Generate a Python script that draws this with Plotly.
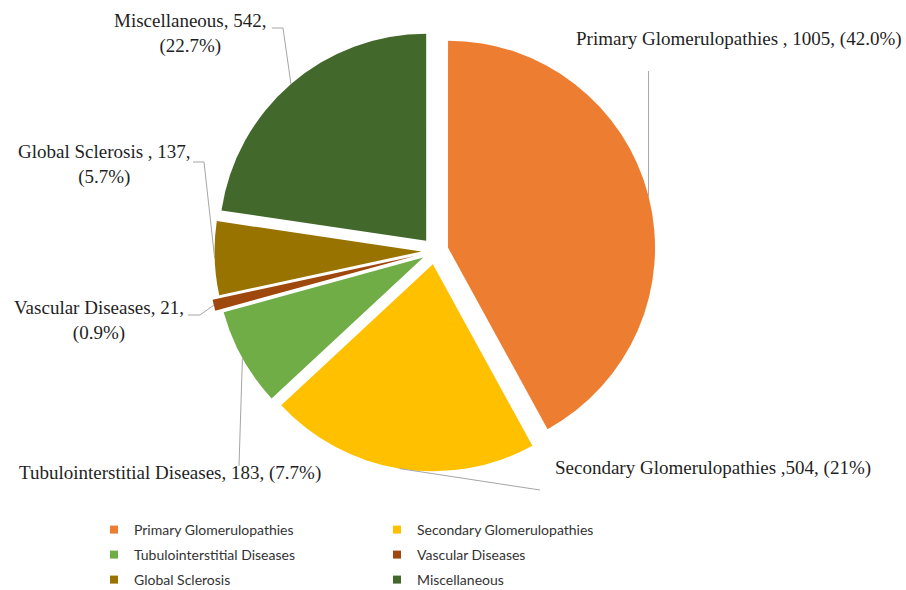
import math
import plotly.graph_objects as go

# ---- data -------------------------------------------------------------
categories = [
    "Primary Glomerulopathies",
    "Secondary Glomerulopathies",
    "Tubulointerstitial Diseases",
    "Vascular Diseases",
    "Global Sclerosis",
    "Miscellaneous",
]
counts = [1005, 504, 183, 21, 137, 542]
label_texts = [
    "Primary Glomerulopathies , 1005, (42.0%)",
    "Secondary Glomerulopathies ,504, (21%)",
    "Tubulointerstitial Diseases, 183, (7.7%)",
    "Vascular Diseases, 21,<br>(0.9%)",
    "Global Sclerosis , 137,<br>(5.7%)",
    "Miscellaneous, 542,<br>(22.7%)",
]
colors = ["#ED7D31", "#FFC000", "#70AD47", "#9E480E", "#997300", "#43682B"]

# ---- layout geometry (pixels) ------------------------------------------
W, H = 906, 590
CX, CY = 435, 251          # pie centre
R = 207                     # pie radius
pulls = [0.065, 0.065, 0.065, 0.10, 0.065, 0.065]

# label centres and leader-line elbows (pixels)
label_pos = [(739, 39), (713, 468), (170, 473), (99, 320), (104, 164), (190, 34)]
leader_tail = [
    [(None, 71)],
    [(540, 490)],
    [(239, 466)],
    [(200, 315), (188, 315)],
    [(204, 162), (193, 162)],
    [(283, 28), (272, 28)],
]


def fx(x):
    return x / W


def fy(y):
    return 1 - y / H


half = R * (1 + max(pulls))
domain = dict(x=[fx(CX - half), fx(CX + half)], y=[fy(CY + half), fy(CY - half)])

fig = go.Figure()
fig.add_trace(go.Pie(
    labels=categories,
    values=counts,
    sort=False,
    direction="clockwise",
    rotation=0,
    pull=pulls,
    marker=dict(colors=colors, line=dict(width=0)),
    textinfo="none",
    hoverinfo="label+value+percent",
    showlegend=False,
    domain=domain,
))

# legend entries: two columns of three
for i, (name, col) in enumerate(zip(categories, colors)):
    fig.add_trace(go.Scatter(
        x=[None], y=[None], mode="markers", name=name,
        marker=dict(symbol="square", size=8, color=col),
        legend="legend" if i % 2 == 0 else "legend2",
        legendgroup=name,
    ))

# leader lines from each slice's outer mid-point to its label
total = sum(counts)
shapes = []
annotations = []
cum = 0
for i, c in enumerate(counts):
    theta = math.radians((cum + c / 2) / total * 360)
    cum += c
    dist = R * (1 + pulls[i])
    rx = CX + dist * math.sin(theta)
    ry = CY - dist * math.cos(theta)
    pts = [(rx, ry)] + [(rx if px is None else px, py) for px, py in leader_tail[i]]
    path = "M " + " L ".join(f"{fx(x):.5f},{fy(y):.5f}" for x, y in pts)
    shapes.append(dict(type="path", path=path, xref="paper", yref="paper",
                       line=dict(color="#A6A6A6", width=1)))
    lx, ly = label_pos[i]
    annotations.append(dict(
        x=fx(lx), y=fy(ly), xref="paper", yref="paper",
        text=label_texts[i], showarrow=False, align="center",
        xanchor="center", yanchor="middle",
        font=dict(family="Liberation Serif", size=19, color="#1f1f1f"),
    ))

legend_style = dict(
    xanchor="left", yanchor="top",
    font=dict(family="Lato", size=14, color="#333333"),
    bgcolor="rgba(0,0,0,0)", tracegroupgap=3.8,
    itemclick=False, itemdoubleclick=False,
)

fig.update_layout(
    width=W, height=H,
    margin=dict(l=0, r=0, t=0, b=0, autoexpand=False),
    paper_bgcolor="white", plot_bgcolor="white",
    xaxis=dict(visible=False), yaxis=dict(visible=False),
    shapes=shapes, annotations=annotations,
    legend=dict(x=fx(94), y=fy(514), **legend_style),
    legend2=dict(x=fx(377), y=fy(514), **legend_style),
)

fig.write_html("out.html")
